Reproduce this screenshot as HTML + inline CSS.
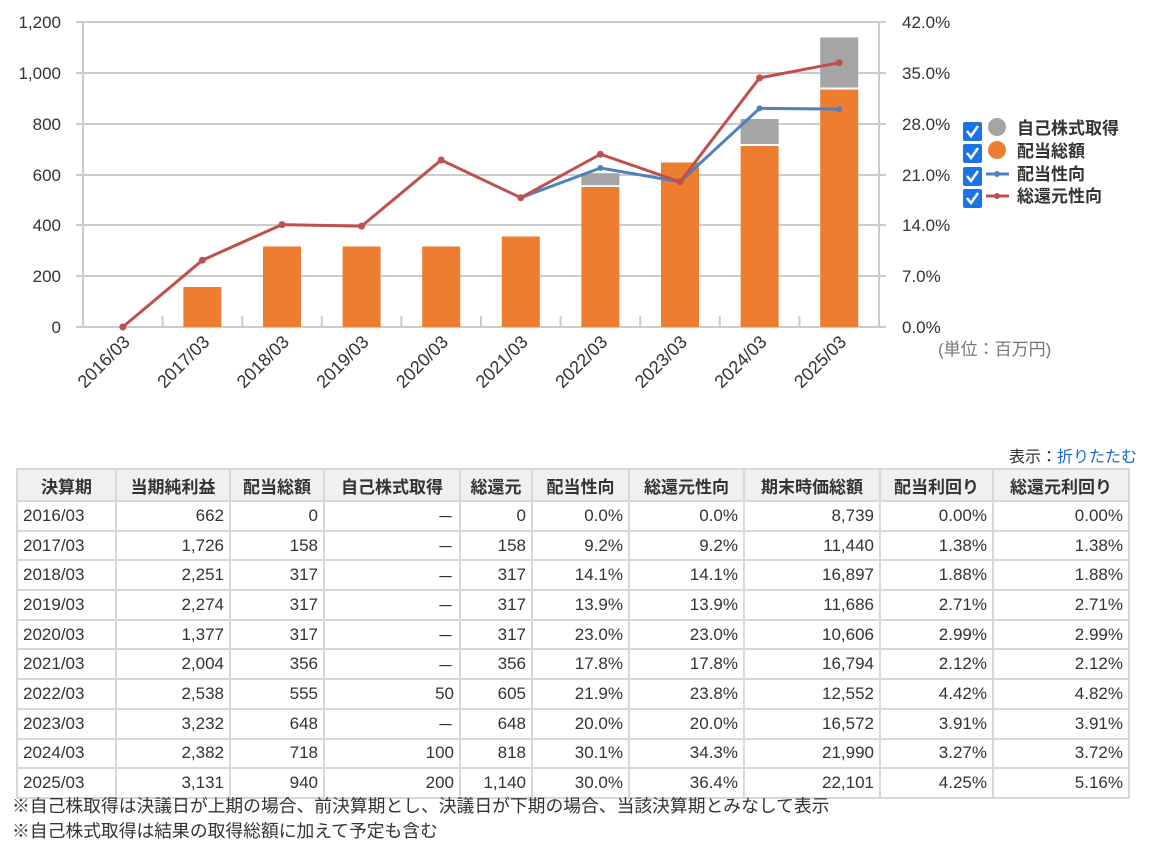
<!DOCTYPE html>
<html><head><meta charset="utf-8"><style>
body{margin:0;background:#fff;width:1167px;height:857px;overflow:hidden;font-family:"Liberation Sans","Noto Sans CJK JP",sans-serif;color:#333}
svg text{font-family:"Liberation Sans","Noto Sans CJK JP",sans-serif}
table{position:absolute;left:16px;top:468px;border-collapse:collapse;font-size:17px}
td,th{border:2px solid #d8d8d8;padding:0 5px;height:29.7px;box-sizing:border-box}
th{background:#f0f0f0;font-weight:bold;height:32px;text-align:center}
td{text-align:right}
td:first-child{text-align:left}
.note{position:absolute;left:12px;font-size:17.8px;color:#333}
</style></head><body>
<svg width="1167" height="440" style="position:absolute;left:0;top:0">
<g stroke="#ccc" stroke-width="2">
<line x1="76" y1="22" x2="886" y2="22"/><line x1="76" y1="73" x2="886" y2="73"/><line x1="76" y1="124" x2="886" y2="124"/><line x1="76" y1="175" x2="886" y2="175"/><line x1="76" y1="225" x2="886" y2="225"/><line x1="76" y1="276" x2="886" y2="276"/><line x1="76" y1="327" x2="886" y2="327"/>
<line x1="83" y1="22" x2="83" y2="327"/><line x1="879" y1="22" x2="879" y2="327"/>
<line x1="162.6" y1="316" x2="162.6" y2="327"/><line x1="242.2" y1="316" x2="242.2" y2="327"/><line x1="321.8" y1="316" x2="321.8" y2="327"/><line x1="401.4" y1="316" x2="401.4" y2="327"/><line x1="481" y1="316" x2="481" y2="327"/><line x1="560.6" y1="316" x2="560.6" y2="327"/><line x1="640.2" y1="316" x2="640.2" y2="327"/><line x1="719.8" y1="316" x2="719.8" y2="327"/><line x1="799.4" y1="316" x2="799.4" y2="327"/>
</g>
<g font-size="17" fill="#333" text-anchor="end">
<text x="61" y="28">1,200</text><text x="61" y="79">1,000</text><text x="61" y="130">800</text><text x="61" y="181">600</text><text x="61" y="231">400</text><text x="61" y="282">200</text><text x="61" y="333">0</text>
</g>
<g font-size="17" fill="#333">
<text x="902" y="28">42.0%</text><text x="902" y="79">35.0%</text><text x="902" y="130">28.0%</text><text x="902" y="181">21.0%</text><text x="902" y="231">14.0%</text><text x="902" y="282">7.0%</text><text x="902" y="333">0.0%</text>
<text x="938" y="355" fill="#777">(単位：百万円)</text>
</g>
<g fill="#ed7d31">
<rect x="183.4" y="287" width="38" height="40"/><rect x="263" y="246.5" width="38" height="80.5"/><rect x="342.6" y="246.5" width="38" height="80.5"/><rect x="422.2" y="246.5" width="38" height="80.5"/><rect x="501.8" y="236.5" width="38" height="90.5"/><rect x="581.4" y="187" width="38" height="140"/><rect x="661" y="162.5" width="38" height="164.5"/><rect x="740.6" y="146" width="38" height="181"/><rect x="820.2" y="89.5" width="38" height="237.5"/>
</g>
<g fill="#a5a5a5">
<rect x="581.4" y="173.2" width="38" height="12"/><rect x="740.6" y="119" width="38" height="25"/><rect x="820.2" y="37.5" width="38" height="50"/>
</g>
<polyline fill="none" stroke="#4f81bd" stroke-width="3" points="520.8,197.7 600.4,168 680,181.8 759.6,108.4 839.2,109.1"/>
<g fill="#4f81bd"><circle cx="600.4" cy="168" r="3"/><circle cx="759.6" cy="108.4" r="3"/><circle cx="839.2" cy="109.1" r="3"/></g>
<polyline fill="none" stroke="#c0504d" stroke-width="3" points="122.8,327 202.4,260.2 282,224.6 361.6,226.1 441.2,160 520.8,197.7 600.4,154.2 680,181.8 759.6,77.9 839.2,62.7"/>
<g fill="#c0504d"><circle cx="122.8" cy="327" r="3.5"/><circle cx="202.4" cy="260.2" r="3.5"/><circle cx="282" cy="224.6" r="3.5"/><circle cx="361.6" cy="226.1" r="3.5"/><circle cx="441.2" cy="160" r="3.5"/><circle cx="520.8" cy="197.7" r="3.5"/><circle cx="600.4" cy="154.2" r="3.5"/><circle cx="680" cy="181.8" r="3.5"/><circle cx="759.6" cy="77.9" r="3.5"/><circle cx="839.2" cy="62.7" r="3.5"/></g>
<g font-size="18" fill="#333" text-anchor="end">
<text transform="translate(131,343) rotate(-45)">2016/03</text><text transform="translate(210.6,343) rotate(-45)">2017/03</text><text transform="translate(290.2,343) rotate(-45)">2018/03</text><text transform="translate(369.8,343) rotate(-45)">2019/03</text><text transform="translate(449.4,343) rotate(-45)">2020/03</text><text transform="translate(529,343) rotate(-45)">2021/03</text><text transform="translate(608.6,343) rotate(-45)">2022/03</text><text transform="translate(688.2,343) rotate(-45)">2023/03</text><text transform="translate(767.8,343) rotate(-45)">2024/03</text><text transform="translate(847.4,343) rotate(-45)">2025/03</text>
</g>
<g>
<rect x="963" y="122" width="19" height="19" rx="2" fill="#1a73e8"/><rect x="963" y="144" width="19" height="19" rx="2" fill="#1a73e8"/><rect x="963" y="167" width="19" height="19" rx="2" fill="#1a73e8"/><rect x="963" y="189" width="19" height="19" rx="2" fill="#1a73e8"/>
<g fill="none" stroke="#fff" stroke-width="2.5"><polyline points="967,131 971,136 978,126"/><polyline points="967,153 971,158 978,148"/><polyline points="967,176 971,181 978,171"/><polyline points="967,198 971,203 978,193"/></g>
<circle cx="997" cy="127" r="9" fill="#a5a5a5"/><circle cx="997" cy="150" r="9" fill="#ed7d31"/>
<line x1="986" y1="174" x2="1009" y2="174" stroke="#4f81bd" stroke-width="3"/><circle cx="997" cy="174" r="3" fill="#4f81bd"/>
<line x1="986" y1="196" x2="1009" y2="196" stroke="#c0504d" stroke-width="3"/><circle cx="997" cy="196" r="3" fill="#c0504d"/>
<g font-size="17" font-weight="bold" fill="#333"><text x="1017" y="134">自己株式取得</text><text x="1017" y="157">配当総額</text><text x="1017" y="180">配当性向</text><text x="1017" y="202">総還元性向</text></g>
</g>
</svg>
<div style="position:absolute;right:30px;top:443px;font-size:16px">表示：<span style="color:#1a66cc">折りたたむ</span></div>
<table>
<tr><th style="width:99px">決算期</th><th style="width:114px">当期純利益</th><th style="width:94px">配当総額</th><th style="width:136px">自己株式取得</th><th style="width:72px">総還元</th><th style="width:97px">配当性向</th><th style="width:115px">総還元性向</th><th style="width:136px">期末時価総額</th><th style="width:113px">配当利回り</th><th style="width:136px">総還元利回り</th></tr>
<tr><td>2016/03</td><td>662</td><td>0</td><td>－</td><td>0</td><td>0.0%</td><td>0.0%</td><td>8,739</td><td>0.00%</td><td>0.00%</td></tr>
<tr><td>2017/03</td><td>1,726</td><td>158</td><td>－</td><td>158</td><td>9.2%</td><td>9.2%</td><td>11,440</td><td>1.38%</td><td>1.38%</td></tr>
<tr><td>2018/03</td><td>2,251</td><td>317</td><td>－</td><td>317</td><td>14.1%</td><td>14.1%</td><td>16,897</td><td>1.88%</td><td>1.88%</td></tr>
<tr><td>2019/03</td><td>2,274</td><td>317</td><td>－</td><td>317</td><td>13.9%</td><td>13.9%</td><td>11,686</td><td>2.71%</td><td>2.71%</td></tr>
<tr><td>2020/03</td><td>1,377</td><td>317</td><td>－</td><td>317</td><td>23.0%</td><td>23.0%</td><td>10,606</td><td>2.99%</td><td>2.99%</td></tr>
<tr><td>2021/03</td><td>2,004</td><td>356</td><td>－</td><td>356</td><td>17.8%</td><td>17.8%</td><td>16,794</td><td>2.12%</td><td>2.12%</td></tr>
<tr><td>2022/03</td><td>2,538</td><td>555</td><td>50</td><td>605</td><td>21.9%</td><td>23.8%</td><td>12,552</td><td>4.42%</td><td>4.82%</td></tr>
<tr><td>2023/03</td><td>3,232</td><td>648</td><td>－</td><td>648</td><td>20.0%</td><td>20.0%</td><td>16,572</td><td>3.91%</td><td>3.91%</td></tr>
<tr><td>2024/03</td><td>2,382</td><td>718</td><td>100</td><td>818</td><td>30.1%</td><td>34.3%</td><td>21,990</td><td>3.27%</td><td>3.72%</td></tr>
<tr><td>2025/03</td><td>3,131</td><td>940</td><td>200</td><td>1,140</td><td>30.0%</td><td>36.4%</td><td>22,101</td><td>4.25%</td><td>5.16%</td></tr>
</table>
<div class="note" style="top:792px">※自己株取得は決議日が上期の場合、前決算期とし、決議日が下期の場合、当該決算期とみなして表示</div>
<div class="note" style="top:817px">※自己株式取得は結果の取得総額に加えて予定も含む</div>
</body></html>
